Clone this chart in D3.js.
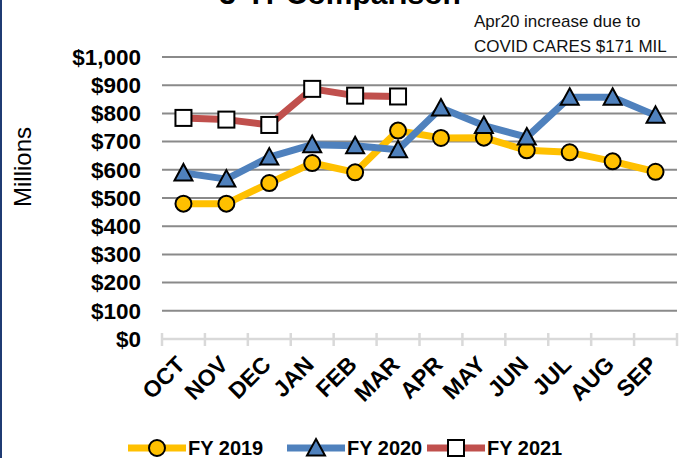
<!DOCTYPE html>
<html>
<head>
<meta charset="utf-8">
<script src="https://cdn.jsdelivr.net/npm/d3@7"></script>
<style>
  body { margin: 0; background: #fff; }
  svg { display: block; }
</style>
</head>
<body>
<div id="chart"></div>
<script>
const months = ["OCT", "NOV", "DEC", "JAN", "FEB", "MAR", "APR", "MAY", "JUN", "JUL", "AUG", "SEP"];
const fy2019 = [480, 480, 553, 624, 591, 739, 713, 714, 669, 662, 630, 593];
const fy2020 = [589, 567, 645, 689, 685, 671, 819, 757, 716, 857, 857, 793];
const fy2021 = [784, 778, 759, 887, 863, 860];
const yTicks = [0, 100, 200, 300, 400, 500, 600, 700, 800, 900, 1000];

const width = 689;
const height = 458;
const font = "'Liberation Sans', Arial, sans-serif";

const svg = d3.select("#chart")
  .append("svg")
  .attr("width", width)
  .attr("height", height);

// dark blue frame edge on the left
svg.append("rect")
  .attr("x", 0).attr("y", 0)
  .attr("width", 2).attr("height", height)
  .attr("fill", "#1f3b73");

const x = d3.scaleBand()
  .domain(months)
  .range([162, 677]);

const y = d3.scaleLinear()
  .domain([0, 1000])
  .range([339, 57]);

// title, clipped by the top edge as in the original
svg.append("text")
  .attr("x", 340)
  .attr("y", 4)
  .attr("text-anchor", "middle")
  .style("font-family", font)
  .style("font-weight", "bold")
  .style("font-size", "30px")
  .text("3-Yr Comparison");

// annotation
const note = svg.append("text")
  .style("font-family", font)
  .style("font-size", "17px")
  .attr("fill", "#111");
note.append("tspan").attr("x", 474).attr("y", 27).text("Apr20 increase due to");
note.append("tspan").attr("x", 474).attr("y", 52).text("COVID CARES $171 MIL");

// gridlines
svg.append("g")
  .selectAll("line")
  .data(yTicks.filter((d) => d > 0))
  .enter()
  .append("line")
  .attr("x1", 162)
  .attr("x2", 677)
  .attr("y1", (d) => y(d))
  .attr("y2", (d) => y(d))
  .attr("stroke", "#8a8a8a")
  .attr("stroke-width", 2);

// y axis labels
svg.append("g")
  .attr("transform", "translate(141,0)")
  .call(d3.axisLeft(y).tickValues(yTicks).tickSize(0).tickPadding(0).tickFormat((d) => "$" + d3.format(",")(d)))
  .call((g) => g.select(".domain").remove())
  .selectAll("text")
  .style("font-family", font)
  .style("font-weight", "bold")
  .style("font-size", "22.5px")
  .attr("fill", "#000");

svg.append("text")
  .attr("transform", "translate(31,167) rotate(-90)")
  .attr("text-anchor", "middle")
  .style("font-family", font)
  .style("font-size", "24px")
  .text("Millions");

// x axis
const xAxis = svg.append("g").attr("transform", "translate(0," + y(0) + ")");
xAxis.append("line")
  .attr("x1", 162).attr("x2", 677)
  .attr("stroke", "#d9d9d9").attr("stroke-width", 2.5);
xAxis.selectAll(".tk")
  .data(months.concat(["end"]))
  .enter()
  .append("line")
  .attr("class", "tk")
  .attr("x1", (d, i) => 162 + i * x.step())
  .attr("x2", (d, i) => 162 + i * x.step())
  .attr("y1", -6).attr("y2", 7)
  .attr("stroke", "#d9d9d9").attr("stroke-width", 2.5);
xAxis.selectAll(".lbl")
  .data(months)
  .enter()
  .append("text")
  .attr("class", "lbl")
  .attr("text-anchor", "end")
  .attr("transform", (d) => "translate(" + (x(d) + x.bandwidth() / 2 + 3) + ",27) rotate(-45)")
  .style("font-family", font)
  .style("font-weight", "bold")
  .style("font-size", "23px")
  .text((d) => d);

const series = [
  { name: "FY 2019", values: fy2019, color: "#ffc000", marker: "circle", fill: "#ffc000" },
  { name: "FY 2020", values: fy2020, color: "#4f81bd", marker: "triangle", fill: "#4f81bd" },
  { name: "FY 2021", values: fy2021, color: "#c0504d", marker: "square", fill: "#fff" }
];

function drawMarker(g, type, fill) {
  if (type === "circle") {
    g.append("circle").attr("r", 8).attr("fill", fill).attr("stroke", "#000").attr("stroke-width", 2);
  } else if (type === "triangle") {
    g.append("path").attr("d", "M0,-9L9,7.5L-9,7.5Z").attr("fill", fill).attr("stroke", "#000").attr("stroke-width", 2);
  } else {
    g.append("rect").attr("x", -8).attr("y", -8).attr("width", 16).attr("height", 16)
      .attr("fill", fill).attr("stroke", "#000").attr("stroke-width", 2);
  }
}

const line = d3.line()
  .x((d, i) => x(months[i]) + x.bandwidth() / 2)
  .y((d) => y(d));

for (const s of series) {
  svg.append("path")
    .datum(s.values)
    .attr("d", line)
    .attr("fill", "none")
    .attr("stroke", s.color)
    .attr("stroke-width", 7)
    .attr("stroke-linejoin", "round");
  svg.append("g")
    .selectAll("g")
    .data(s.values)
    .enter()
    .append("g")
    .attr("transform", (d, i) => "translate(" + (x(months[i]) + x.bandwidth() / 2) + "," + y(d) + ")")
    .each(function () { drawMarker(d3.select(this), s.marker, s.fill); });
}

// legend
const legendX = [128, 287, 427];
series.forEach((s, i) => {
  const g = svg.append("g").attr("transform", "translate(" + legendX[i] + ",448)");
  g.append("line").attr("x1", 0).attr("x2", 58).attr("stroke", s.color).attr("stroke-width", 7);
  const m = g.append("g").attr("transform", "translate(29,0)");
  drawMarker(m, s.marker, s.fill);
  g.append("text")
    .attr("x", 60)
    .attr("y", 7)
    .style("font-family", font)
    .style("font-weight", "bold")
    .style("font-size", "20px")
    .text(s.name);
});
</script>
</body>
</html>
